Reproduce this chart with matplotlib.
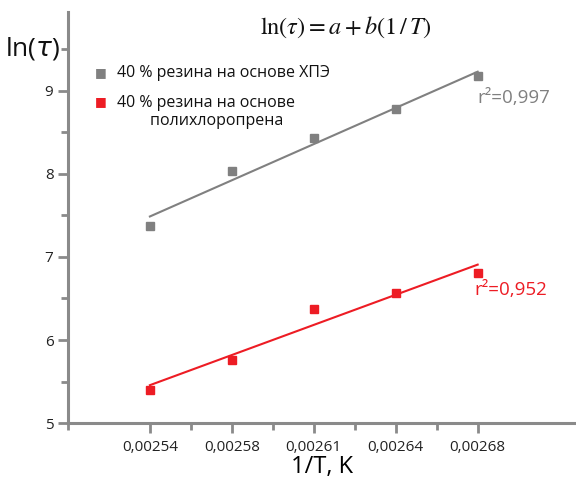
import numpy as np
import matplotlib
matplotlib.use("Agg")
import matplotlib.pyplot as plt

# -----------------------------
# DATA
# -----------------------------
X_LABELS = ["0,00254", "0,00258", "0,00261", "0,00264", "0,00268"]
LN_TAU_HPE = [7.37, 8.04, 8.43, 8.78, 9.18]
LN_TAU_CR = [5.40, 5.76, 6.37, 6.57, 6.81]
SERIES_NAMES = ["40 % резина на основе ХПЭ",
                "40 % резина на основе\n        полихлоропрена"]
R2_LABELS = ["r²=0,997", "r²=0,952"]

GRAY = "#808080"
RED = "#ED1C24"
AXIS_GRAY = "#8a8a8a"

plt.rcParams['font.family'] = ['Open Sans', 'DejaVu Sans']
plt.rcParams['mathtext.fontset'] = 'stix'

fig = plt.figure(figsize=(5.76, 4.84), dpi=100)
ax = fig.add_axes([0.118, 0.126, 0.882, 0.849])

x = np.arange(1, len(X_LABELS) + 1)

for vals, color in [(LN_TAU_HPE, GRAY), (LN_TAU_CR, RED)]:
    ax.plot(x, vals, 's', color=color, markersize=6.3, zorder=3)
    b, a = np.polyfit(x, vals, 1)
    ax.plot([x[0], x[-1]], [a + b * x[0], a + b * x[-1]], '-',
            color=color, lw=1.5, zorder=2)

# axes styling
ax.set_xlim(0, 6.2)
ax.set_ylim(5, 9.95)
ax.set_xticks(x)
ax.set_xticklabels(X_LABELS)
ax.set_xticks([0, 1.5, 2.5, 3.5, 4.5], minor=True)
ax.set_yticks([5, 6, 7, 8, 9])
ax.set_yticks([5.5, 6.5, 7.5, 8.5, 9.5], minor=True)

for side in ["top", "right"]:
    ax.spines[side].set_visible(False)
for side in ["left", "bottom"]:
    ax.spines[side].set_color(AXIS_GRAY)
    ax.spines[side].set_linewidth(2.2)

ax.tick_params(which='both', color=AXIS_GRAY, width=2, direction='out')
ax.tick_params(which='major', length=7, labelsize=11, labelcolor='#222222')
ax.tick_params(which='minor', length=5)
ax.tick_params(axis='x', pad=5)

ax.set_xlabel("1/T, K", fontsize=17, labelpad=0)

# y label placed horizontally at top-left
fig.text(0.008, 0.9, r"ln($\tau$)", fontsize=19, color='#111111', va='center',
         ha='left', math_fontfamily='dejavusans')

# equation
fig.text(0.6, 0.944, r"$\ln(\tau) = a + b(1\,/\,T)$", fontsize=17.5,
         ha='center', va='center', color='#111111')

# legend (manual)
fig.text(0.175, 0.85, "■", color=GRAY, fontsize=9, va='center', ha='center',
         family='DejaVu Sans')
fig.text(0.203, 0.85, SERIES_NAMES[0], fontsize=11.5, color='#111111',
         va='center', ha='left')
fig.text(0.175, 0.79, "■", color=RED, fontsize=9, va='center', ha='center',
         family='DejaVu Sans')
fig.text(0.203, 0.768, SERIES_NAMES[1], fontsize=11.5, color='#111111',
         va='center', ha='left', linespacing=1.15)

# r^2 annotations
ax.text(x[-1], 9.02, R2_LABELS[0], color=GRAY,
        fontsize=13.5, ha='left', va='top')
ax.text(x[-1] - 0.04, 6.71, R2_LABELS[1], color=RED,
        fontsize=13.5, ha='left', va='top')

fig.savefig("out.png", dpi=100)
